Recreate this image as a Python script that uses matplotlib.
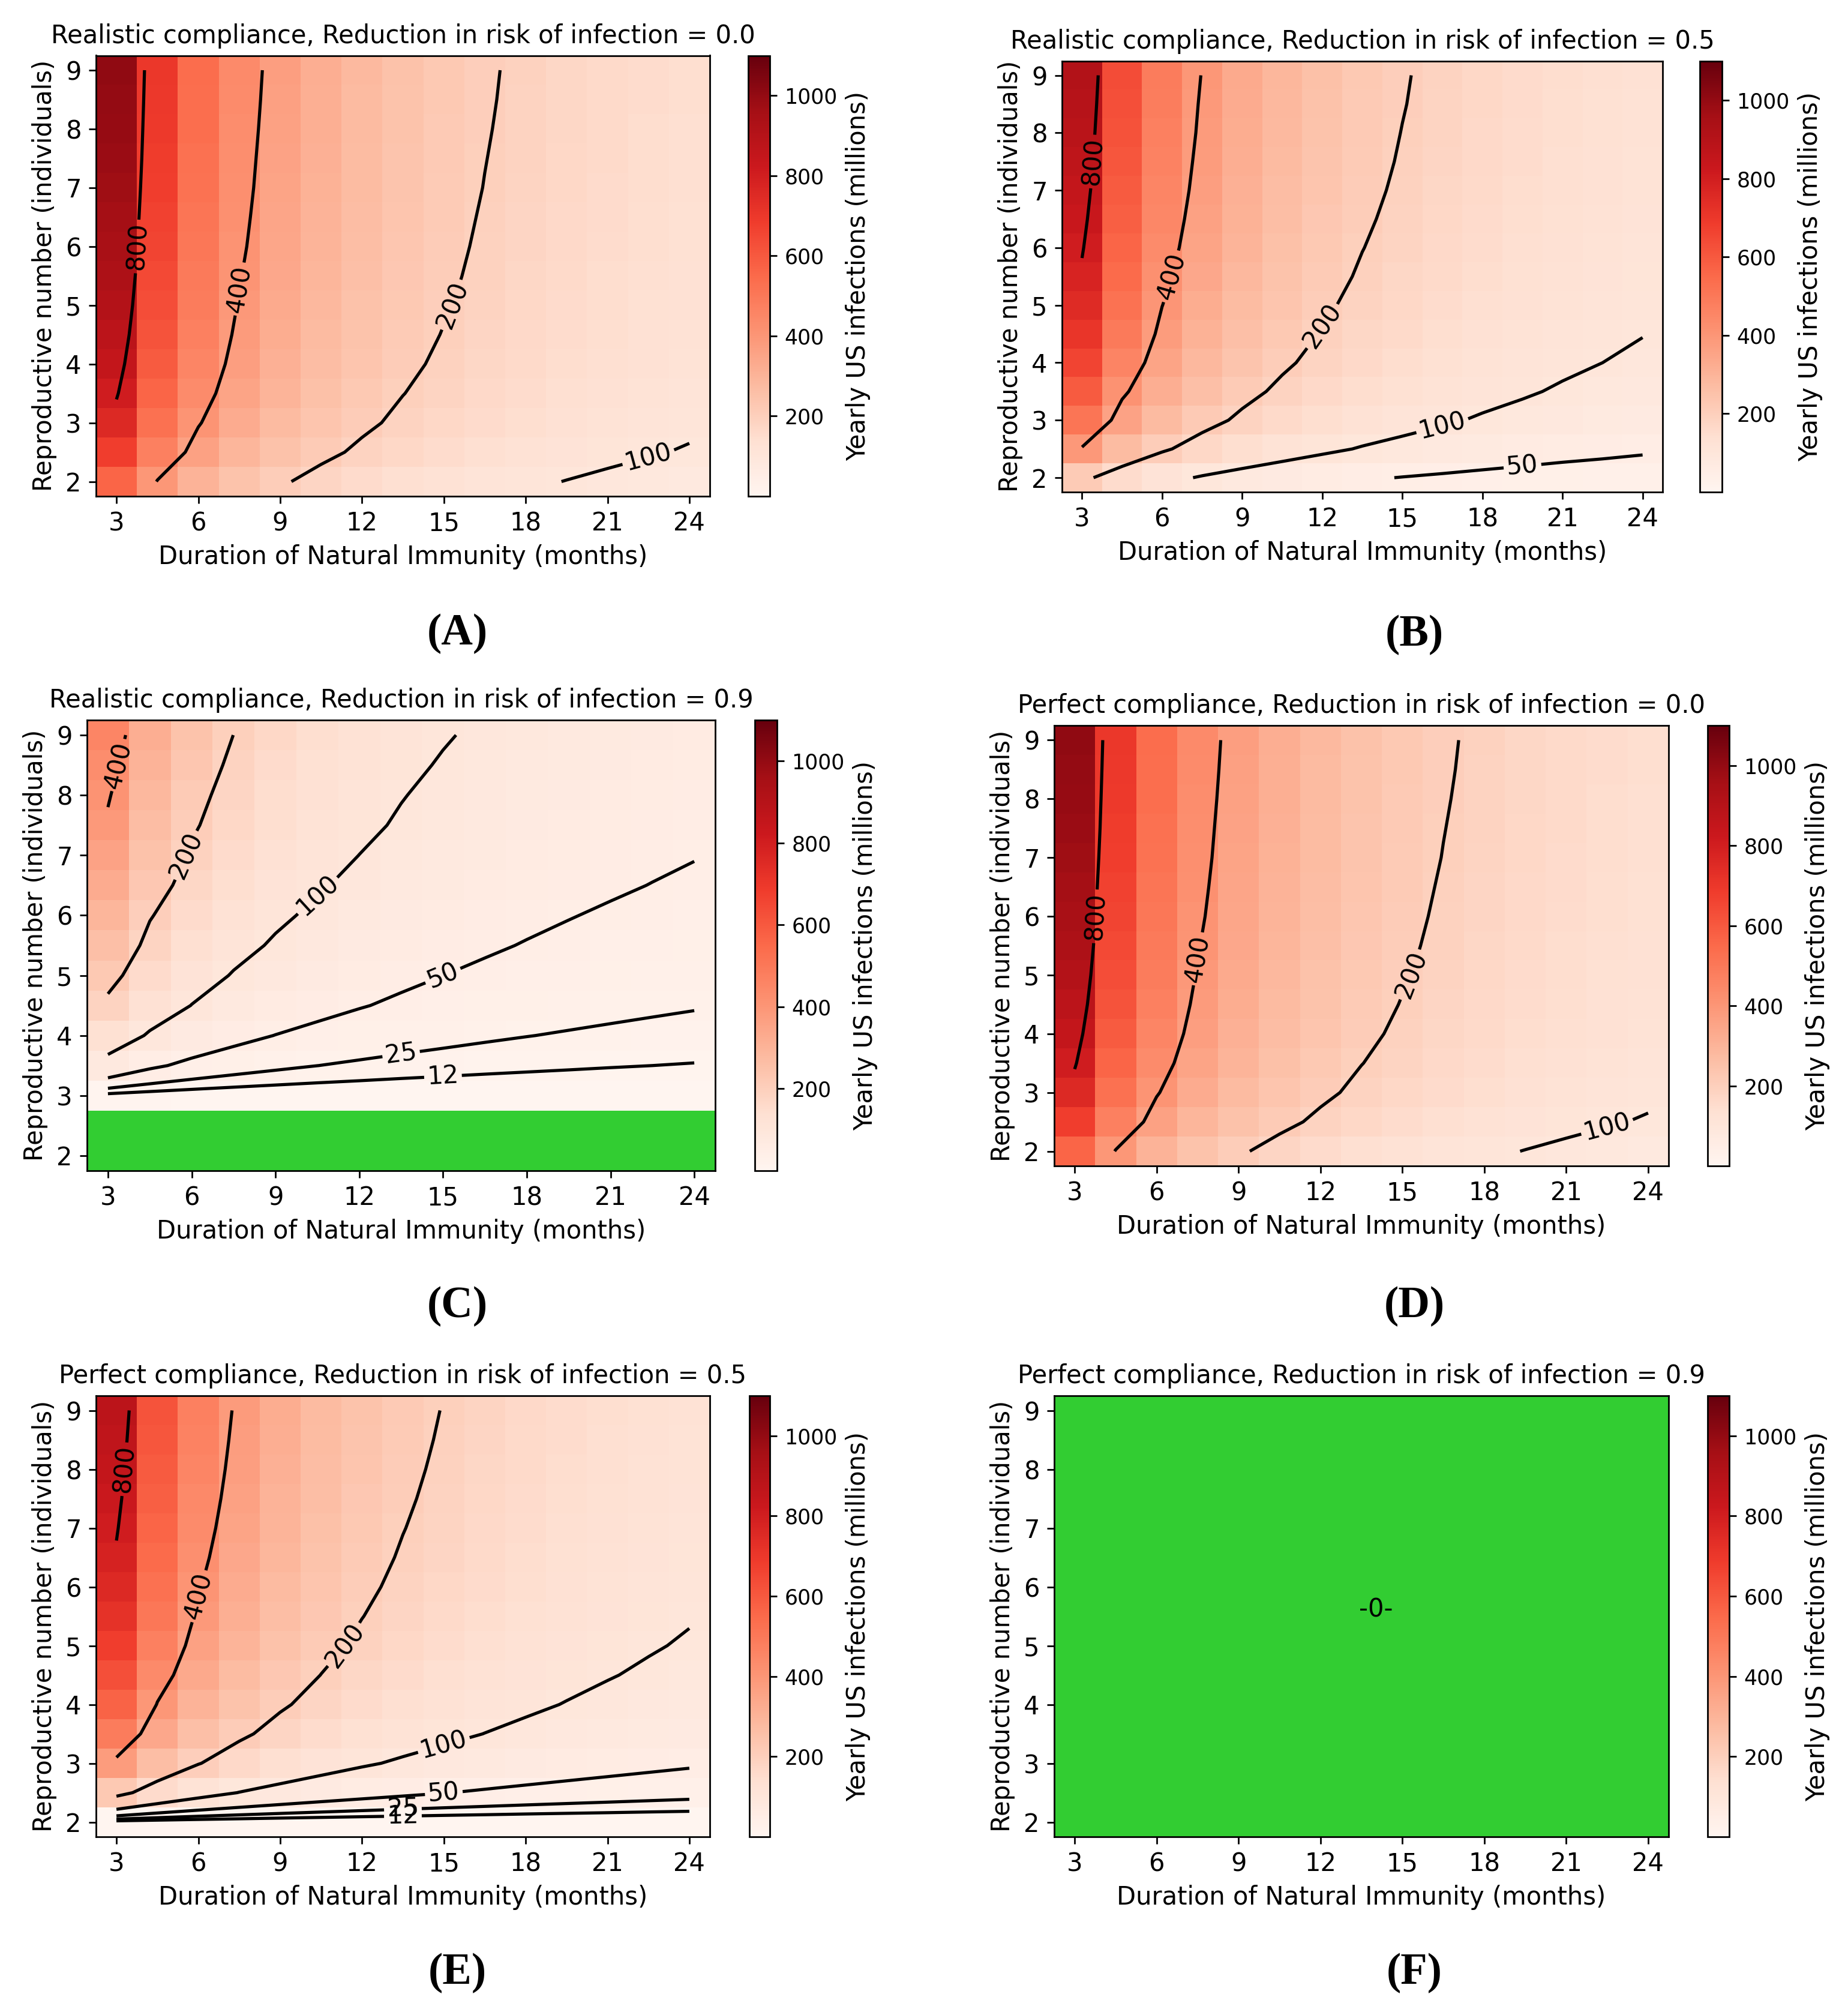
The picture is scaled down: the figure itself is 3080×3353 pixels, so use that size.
import numpy as np
import matplotlib
matplotlib.use("Agg")
import matplotlib.pyplot as plt
from matplotlib.colors import Normalize

# ---------------- data ----------------
months = [3, 4.5, 6, 7.5, 9, 10.5, 12, 13.5, 15, 16.5, 18, 19.5, 21, 22.5, 24]
repro = [2, 2.5, 3, 3.5, 4, 4.5, 5, 5.5, 6, 6.5, 7, 7.5, 8, 8.5, 9]
contour_levels = [12, 25, 50, 100, 200, 400, 800]
x_ticks = [3, 6, 9, 12, 15, 18, 21, 24]
y_ticks = [2, 3, 4, 5, 6, 7, 8, 9]

titles = [
    "Realistic compliance, Reduction in risk of infection = 0.0",
    "Realistic compliance, Reduction in risk of infection = 0.5",
    "Realistic compliance, Reduction in risk of infection = 0.9",
    "Perfect compliance, Reduction in risk of infection = 0.0",
    "Perfect compliance, Reduction in risk of infection = 0.5",
    "Perfect compliance, Reduction in risk of infection = 0.9",
]
panel_letters = ["(A)", "(B)", "(C)", "(D)", "(E)", "(F)"]

# yearly US infections (millions); rows = reproductive number, cols = months
infections_A = [
    [567, 396, 304, 247, 208, 179, 158, 141, 127, 116, 107, 99, 92, 86, 80],
    [681, 475, 365, 296, 250, 215, 189, 169, 153, 139, 128, 118, 110, 103, 97],
    [757, 528, 406, 329, 277, 239, 211, 188, 170, 155, 142, 131, 122, 114, 107],
    [811, 566, 435, 353, 297, 256, 226, 201, 182, 166, 152, 141, 131, 122, 115],
    [851, 594, 456, 371, 312, 269, 237, 211, 191, 174, 160, 148, 138, 129, 121],
    [883, 616, 473, 384, 323, 279, 246, 219, 198, 180, 166, 153, 143, 133, 125],
    [908, 634, 487, 395, 333, 287, 253, 226, 204, 186, 171, 158, 147, 137, 129],
    [929, 648, 498, 404, 340, 294, 258, 231, 208, 190, 174, 161, 150, 140, 132],
    [946, 660, 507, 412, 347, 299, 263, 235, 212, 193, 178, 164, 153, 143, 134],
    [960, 670, 515, 418, 352, 304, 267, 239, 215, 196, 180, 167, 155, 145, 136],
    [973, 679, 522, 424, 356, 308, 271, 242, 218, 199, 183, 169, 157, 147, 138],
    [984, 687, 528, 428, 360, 311, 274, 244, 221, 201, 185, 171, 159, 149, 139],
    [993, 693, 533, 432, 364, 314, 276, 247, 223, 203, 187, 173, 160, 150, 141],
    [1001, 699, 537, 436, 367, 317, 279, 249, 225, 205, 188, 174, 162, 151, 142],
    [1009, 704, 541, 439, 370, 319, 281, 251, 226, 206, 190, 175, 163, 152, 143],
]

infections_B = [
    [219, 153, 117, 95, 80, 69, 61, 54, 49, 45, 41, 38, 35, 33, 31],
    [392, 273, 210, 170, 143, 124, 109, 97, 88, 80, 74, 68, 63, 59, 55],
    [513, 358, 275, 223, 188, 162, 143, 127, 115, 105, 96, 89, 83, 77, 73],
    [596, 416, 320, 259, 218, 188, 166, 148, 134, 122, 112, 104, 96, 90, 84],
    [659, 460, 354, 287, 242, 209, 183, 164, 148, 135, 124, 115, 107, 100, 93],
    [709, 495, 380, 309, 260, 224, 197, 176, 159, 145, 133, 123, 115, 107, 101],
    [748, 522, 401, 326, 274, 237, 208, 186, 168, 153, 141, 130, 121, 113, 106],
    [782, 546, 419, 340, 287, 247, 218, 194, 175, 160, 147, 136, 126, 118, 111],
    [810, 566, 435, 353, 297, 256, 225, 201, 182, 166, 152, 141, 131, 122, 115],
    [834, 582, 447, 363, 306, 264, 232, 207, 187, 171, 157, 145, 135, 126, 118],
    [855, 597, 458, 372, 313, 270, 238, 212, 192, 175, 161, 148, 138, 129, 121],
    [872, 609, 467, 379, 319, 276, 243, 216, 196, 178, 164, 151, 141, 132, 124],
    [886, 619, 475, 386, 325, 280, 247, 220, 199, 181, 167, 154, 143, 134, 126],
    [899, 628, 482, 391, 329, 284, 250, 223, 202, 184, 169, 156, 145, 136, 127],
    [911, 636, 489, 397, 334, 288, 254, 226, 204, 186, 171, 158, 147, 138, 129],
]

infections_C = [
    [0, 0, 0, 0, 0, 0, 0, 0, 0, 0, 0, 0, 0, 0, 0],
    [0, 0, 0, 0, 0, 0, 0, 0, 0, 0, 0, 0, 0, 0, 0],
    [7.4, 5.2, 4.0, 3.2, 2.7, 2.3, 2.1, 1.8, 1.7, 1.5, 1.4, 1.3, 1.2, 1.1, 1.0],
    [79.4, 55.5, 42.6, 34.6, 29.1, 25.1, 22.1, 19.7, 17.8, 16.2, 14.9, 13.8, 12.8, 12.0, 11.3],
    [135.1, 94.3, 72.4, 58.8, 49.5, 42.7, 37.6, 33.5, 30.3, 27.6, 25.4, 23.5, 21.8, 20.4, 19.2],
    [185.0, 129.2, 99.2, 80.5, 67.8, 58.5, 51.5, 45.9, 41.5, 37.8, 34.8, 32.1, 29.9, 27.9, 26.2],
    [223.6, 156.1, 119.9, 97.3, 81.9, 70.7, 62.2, 55.5, 50.1, 45.7, 42.0, 38.8, 36.1, 33.8, 31.7],
    [259.9, 181.4, 139.4, 113.1, 95.2, 82.2, 72.3, 64.6, 58.3, 53.1, 48.8, 45.2, 42.0, 39.3, 36.9],
    [292.8, 204.4, 157.0, 127.5, 107.3, 92.6, 81.5, 72.7, 65.7, 59.9, 55.0, 50.9, 47.3, 44.2, 41.5],
    [328.0, 229.0, 175.9, 142.8, 120.2, 103.7, 91.3, 81.5, 73.6, 67.1, 61.6, 57.0, 53.0, 49.5, 46.5],
    [358.6, 250.4, 192.3, 156.1, 131.4, 113.4, 99.8, 89.1, 80.4, 73.3, 67.4, 62.3, 58.0, 54.2, 50.9],
    [387.0, 270.2, 207.6, 168.5, 141.8, 122.4, 107.7, 96.1, 86.8, 79.1, 72.7, 67.2, 62.5, 58.5, 54.9],
    [408.6, 285.2, 219.1, 177.9, 149.7, 129.2, 113.7, 101.5, 91.6, 83.5, 76.8, 71.0, 66.0, 61.7, 57.9],
    [433.5, 302.7, 232.5, 188.7, 158.9, 137.1, 120.6, 107.7, 97.2, 88.6, 81.4, 75.3, 70.1, 65.5, 61.5],
    [458.5, 320.1, 245.9, 199.6, 168.0, 145.0, 127.6, 113.9, 102.8, 93.8, 86.1, 79.7, 74.1, 69.3, 65.0],
]

# Perfect compliance with no reduction is the same scenario as panel A
infections_D = infections_A

infections_E = [
    [2.3, 1.6, 1.2, 1.0, 0.8, 0.7, 0.6, 0.6, 0.5, 0.5, 0.4, 0.4, 0.4, 0.3, 0.3],
    [227.0, 158.5, 121.7, 98.8, 83.2, 71.8, 63.2, 56.4, 50.9, 46.4, 42.6, 39.4, 36.7, 34.3, 32.2],
    [378.3, 264.1, 202.9, 164.7, 138.6, 119.7, 105.3, 94.0, 84.9, 77.4, 71.1, 65.7, 61.1, 57.1, 53.6],
    [486.4, 339.6, 260.9, 211.8, 178.2, 153.8, 135.3, 120.8, 109.1, 99.5, 91.4, 84.5, 78.6, 73.5, 69.0],
    [567.4, 396.2, 304.3, 247.1, 207.9, 179.5, 157.9, 140.9, 127.3, 116.0, 106.6, 98.6, 91.7, 85.7, 80.5],
    [630.5, 440.2, 338.1, 274.5, 231.0, 199.4, 175.4, 156.6, 141.4, 128.9, 118.5, 109.6, 101.9, 95.2, 89.4],
    [680.9, 475.4, 365.2, 296.5, 249.5, 215.4, 189.5, 169.1, 152.7, 139.2, 127.9, 118.3, 110.1, 102.9, 96.6],
    [722.2, 504.2, 387.3, 314.4, 264.6, 228.4, 201.0, 179.4, 162.0, 147.7, 135.7, 125.5, 116.7, 109.1, 102.4],
    [756.6, 528.2, 405.8, 329.4, 277.2, 239.3, 210.5, 187.9, 169.7, 154.7, 142.1, 131.5, 122.3, 114.3, 107.3],
    [785.7, 548.5, 421.4, 342.1, 287.9, 248.5, 218.6, 195.2, 176.2, 160.7, 147.6, 136.5, 127.0, 118.7, 111.4],
    [810.6, 566.0, 434.8, 352.9, 297.0, 256.4, 225.6, 201.4, 181.8, 165.8, 152.3, 140.9, 131.0, 122.5, 115.0],
    [832.2, 581.1, 446.4, 362.3, 304.9, 263.3, 231.6, 206.7, 186.7, 170.2, 156.4, 144.6, 134.5, 125.7, 118.0],
    [851.2, 594.3, 456.5, 370.6, 311.9, 269.2, 236.9, 211.4, 190.9, 174.0, 159.9, 147.9, 137.6, 128.6, 120.7],
    [867.8, 605.9, 465.4, 377.8, 318.0, 274.5, 241.5, 215.6, 194.7, 177.5, 163.0, 150.8, 140.3, 131.1, 123.1],
    [882.7, 616.3, 473.4, 384.3, 323.4, 279.2, 245.6, 219.2, 198.0, 180.5, 165.8, 153.4, 142.7, 133.3, 125.2],
]

# every cell is zero (no infections)
infections_F = [[0] * len(months) for _ in repro]

panel_data = [infections_A, infections_B, infections_C,
              infections_D, infections_E, infections_F]

# ---------------- layout (figure fractions) ----------------
W, H = 3080, 3353
DPI = 250
# [ax_left, ax_top, ax_right, ax_bottom, cb_left, cb_right] in pixels
boxes = [
    (160, 92.5, 1183, 827, 1247, 1283),
    (1770, 101.6, 2771, 820, 2833, 2870),
    (145, 1200, 1192, 1951, 1258, 1295),
    (1757, 1209, 2781, 1943, 2846, 2882),
    (160, 2326, 1183, 3061, 1249, 1283),
    (1757, 2326, 2781, 3061, 2846, 2882),
]
letter_pos = [(762, 1056), (2357, 1058), (762, 2177),
              (2357, 2177), (762, 3288), (2357, 3288)]

fig = plt.figure(figsize=(W / DPI, H / DPI), dpi=DPI)

cmap = plt.get_cmap("Reds").copy()
cmap.set_bad("limegreen")
norm = Normalize(vmin=0, vmax=1100)

for i in range(6):
    l, t, r, b, cl, cr = boxes[i]
    ax = fig.add_axes([l / W, 1 - b / H, (r - l) / W, (b - t) / H])
    cax = fig.add_axes([cl / W, 1 - b / H, (cr - cl) / W, (b - t) / H])

    Z = np.ma.masked_equal(np.array(panel_data[i], dtype=float), 0)
    mesh = ax.pcolormesh(months, repro, Z, cmap=cmap, norm=norm,
                         shading="nearest")

    if Z.count() > 0:
        zmin, zmax = Z.min(), Z.max()
        lev = [v for v in contour_levels if zmin < v < zmax]
        cs = ax.contour(months, repro, Z, levels=lev, colors="black",
                        linewidths=1.5)
        ax.clabel(cs, inline=True, fontsize=12, fmt="%d")
    else:
        ax.text(0.524, 0.515, "-0-", transform=ax.transAxes,
                ha="center", va="center", fontsize=12)

    ax.set_xticks(x_ticks)
    ax.set_yticks(y_ticks)
    ax.tick_params(labelsize=12)
    ax.set_xlabel("Duration of Natural Immunity (months)", fontsize=12)
    ax.set_ylabel("Reproductive number (individuals)", fontsize=12)
    ax.set_title(titles[i], fontsize=12)

    cb = fig.colorbar(mesh, cax=cax)
    cb.set_ticks([200, 400, 600, 800, 1000])
    cb.ax.tick_params(labelsize=10)
    cb.set_label("Yearly US infections (millions)", fontsize=12)

    lx, ly = letter_pos[i]
    fig.text(lx / W, 1 - ly / H, panel_letters[i], ha="center", va="center",
             fontsize=21, fontweight="bold", family="Liberation Serif")

fig.savefig("out.png", dpi=DPI, facecolor="white")
